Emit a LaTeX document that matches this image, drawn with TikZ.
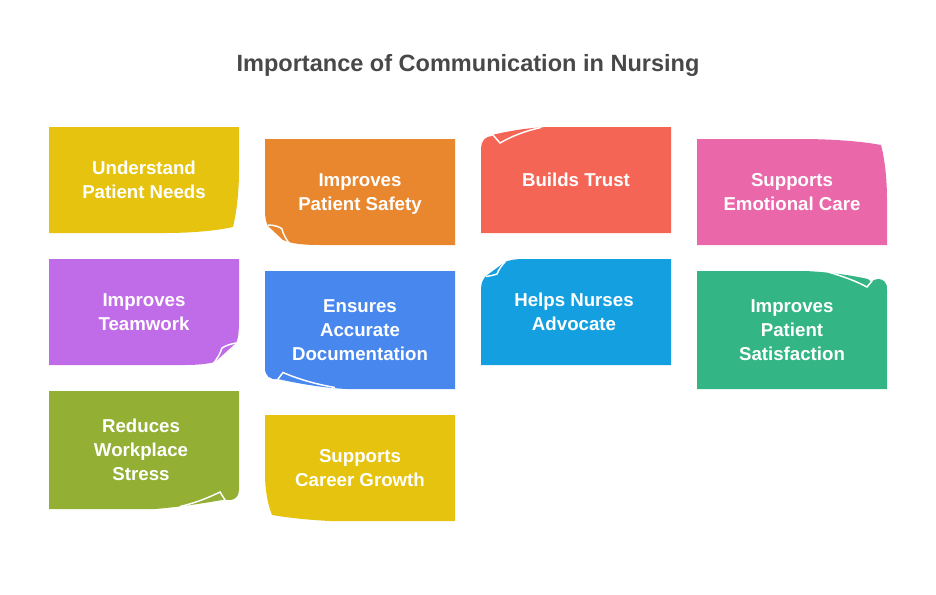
\documentclass[tikz,border=0pt]{standalone}
\usepackage{fontspec}
\setmainfont{Liberation Sans}
\definecolor{needs yellow}{HTML}{E5C30F}
\definecolor{safety orange}{HTML}{E9872E}
\definecolor{trust red}{HTML}{F56556}
\definecolor{care pink}{HTML}{EA68AA}
\definecolor{team purple}{HTML}{C06CE8}
\definecolor{docs blue}{HTML}{4887EE}
\definecolor{advocate blue}{HTML}{14A0E0}
\definecolor{satisfaction green}{HTML}{34B585}
\definecolor{stress olive}{HTML}{93B034}
\definecolor{title grey}{HTML}{484848}

\begin{document}
\begin{tikzpicture}[x=0.75pt, y=-0.75pt, crease/.style={white, line width=1.1pt}, main node/.style={text=white, align=center, yshift=-2.4pt, font=\fontsize{14}{18}\selectfont\bfseries, execute at begin node=\strut, execute at end node=\strut}]

	\useasboundingbox (0,0) rectangle (936,594);

	\node[text=title grey, font=\fontsize{17.65}{22}\selectfont\bfseries] (title) at (468,65) {Importance of Communication in Nursing};

	% first row
	\fill[needs yellow] (49,127) -- (239,127) -- (239,170) .. controls (239,195) and (236,215) .. (233,227) .. controls (215,231) and (190,233) .. (165,233) -- (49,233) -- cycle;
	\fill[safety orange] (265,139) -- (455,139) -- (455,245) -- (320,245) .. controls (305,245) and (292,244) .. (283,240) -- (268,226) .. controls (266,222) and (265,218) .. (265,210) -- cycle;
	\draw[crease] (268,225) .. controls (275,225) and (280,227) .. (282,229) .. controls (283,234) and (286,239) .. (289,243);
	\fill[trust red] (481,233) -- (481,148) .. controls (481,141) and (486,136) .. (492,136) -- (494,134.5) .. controls (510,131) and (525,128) .. (548,127) -- (671,127) -- (671,233) -- cycle;
	\draw[crease] (493,135) -- (500,143) .. controls (512,136) and (525,131) .. (541,127.5);
	\fill[care pink] (697,139) -- (800,139) .. controls (830,139) and (860,141) .. (881,145) .. controls (885,160) and (887,180) .. (887,200) -- (887,245) -- (697,245) -- cycle;

	% second row
	\fill[team purple] (49,259) -- (239,259) -- (239,320) .. controls (239,333) and (238,339) .. (236,343) -- (215,362) .. controls (207,364) and (197,365) .. (185,365) -- (49,365) -- cycle;
	\draw[crease] (236,343) .. controls (230,344) and (225,346) .. (222,348) .. controls (220,354) and (217,359) .. (213,364);
	\fill[docs blue] (265,271) -- (455,271) -- (455,389) -- (347,389) .. controls (325,388) and (300,384) .. (278,379) .. controls (270,380) and (265,376) .. (265,368) -- cycle;
	\draw[crease] (278,379) -- (283,372.5) .. controls (298,379) and (315,384) .. (335,387.5);
	\fill[advocate blue] (481,365) -- (481,290) .. controls (481,283) and (483,279) .. (486,276) -- (505,262) .. controls (510,260) and (515,259) .. (525,259) -- (671,259) -- (671,365) -- cycle;
	\draw[crease] (486,276.5) .. controls (490,276) and (494,275) .. (497,274) .. controls (499,269) and (502,265) .. (505,262);
	\fill[satisfaction green] (697,271) -- (805,271) .. controls (828,272) and (850,275) .. (868,279) -- (871,282) .. controls (875,278) and (882,278) .. (885,282) .. controls (887,284) and (887,287) .. (887,290) -- (887,389) -- (697,389) -- cycle;
	\draw[crease] (828,272) .. controls (842,276) and (856,281) .. (867,287) -- (872,281);

	% third row
	\fill[stress olive] (49,391) -- (239,391) -- (239,490) .. controls (239,496) and (235,500) .. (230,500) .. controls (228,500) and (226,500) .. (225,499.5) .. controls (205,503) and (180,507) .. (155,509) -- (49,509) -- cycle;
	\draw[crease] (225,500) -- (220,492) .. controls (208,498) and (195,503) .. (180,506.5);
	\fill[needs yellow] (265,415) -- (455,415) -- (455,521) -- (330,521) .. controls (310,520) and (290,518) .. (272,515) .. controls (268,505) and (265,490) .. (265,475) -- cycle;

	% labels
	\node[main node] (needs) at (144,180) {Understand\\Patient Needs};
	\node[main node] (safety) at (360,192) {Improves\\Patient Safety};
	\node[main node] (trust) at (576,178) {Builds Trust};
	\node[main node] (care) at (792,192) {Supports\\Emotional Care};
	\node[main node] (teamwork) at (144,312) {Improves\\Teamwork};
	\node[main node] (docs) at (360,330) {Ensures\\Accurate\\Documentation};
	\node[main node] (advocate) at (574,312) {Helps Nurses\\Advocate};
	\node[main node] (satisfaction) at (792,330) {Improves\\Patient\\Satisfaction};
	\node[main node] (stress) at (141,450) {Reduces\\Workplace\\Stress};
	\node[main node] (growth) at (360,468) {Supports\\Career Growth};

\end{tikzpicture}
\end{document}
